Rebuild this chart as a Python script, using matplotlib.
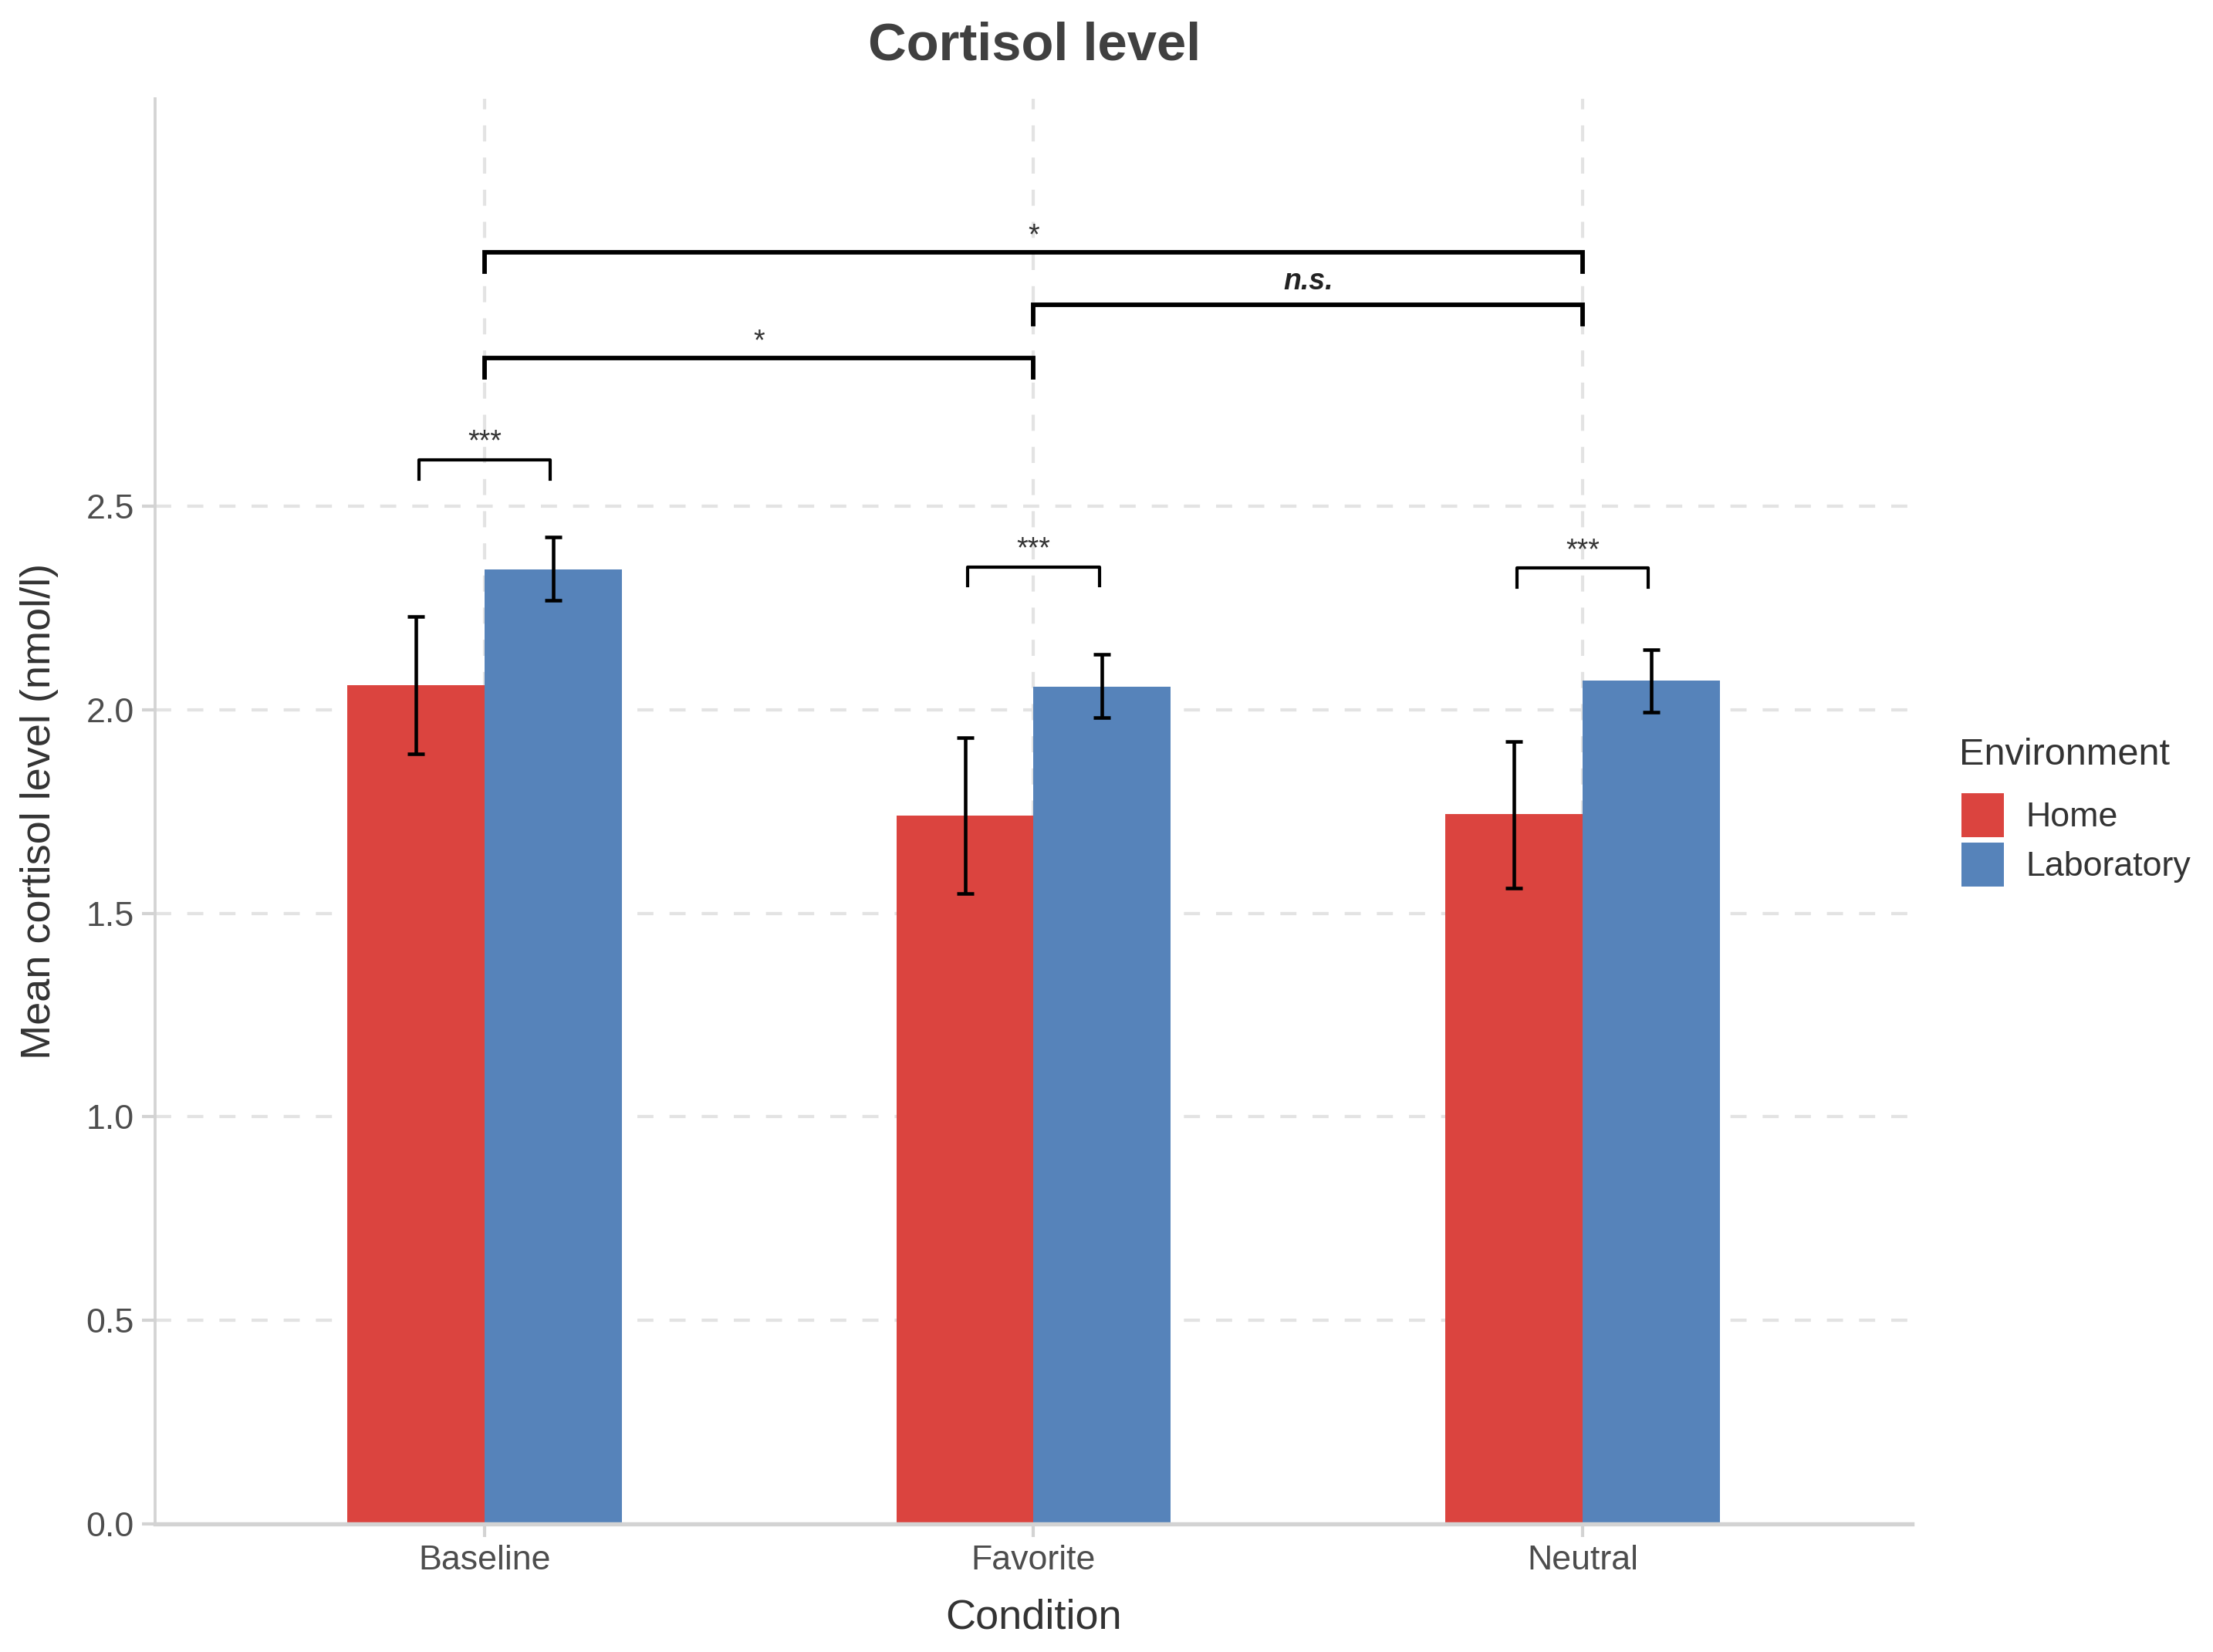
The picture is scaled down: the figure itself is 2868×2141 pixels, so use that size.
import matplotlib
matplotlib.use("Agg")
import matplotlib.pyplot as plt
import numpy as np

plt.rcParams['font.family'] = ['Liberation Sans', 'DejaVu Sans']

# ---- data ----
conditions = ["Baseline", "Favorite", "Neutral"]
environments = ["Home", "Laboratory"]
home_mean = [2.06, 1.74, 1.743]
lab_mean = [2.345, 2.057, 2.072]
home_low = [1.891, 1.548, 1.562]
home_high = [2.230, 1.932, 1.922]
lab_low = [2.268, 1.981, 1.994]
lab_high = [2.424, 2.136, 2.147]
colors = ["#DB443F", "#5683BA"]

# significance brackets
brackets_between = [
    ("Baseline", "Neutral", 3.123, "*"),
    ("Favorite", "Neutral", 2.995, "n.s."),
    ("Baseline", "Favorite", 2.864, "*"),
]
brackets_within = [
    ("Baseline", 2.614, "***"),
    ("Favorite", 2.351, "***"),
    ("Neutral", 2.348, "***"),
]
y_ticks = [0.0, 0.5, 1.0, 1.5, 2.0, 2.5]

fig = plt.figure(figsize=(2868 / 300, 2141 / 300), dpi=300)
ax = fig.add_axes([0.0701, 0.0775, 0.864 - 0.0701, 0.940 - 0.0775])

x = np.arange(1, len(conditions) + 1)
w = 0.25
grid_col = "#E3E3E3"
for t in y_ticks[1:]:
    ax.axhline(t, color=grid_col, lw=1.0, dashes=(5, 5), zorder=0)
for xi in x:
    ax.axvline(xi, color=grid_col, lw=1.0, dashes=(5, 5), zorder=0)

ax.bar(x - w / 2, home_mean, width=w, color=colors[0], label=environments[0], zorder=2)
ax.bar(x + w / 2, lab_mean, width=w, color=colors[1], label=environments[1], zorder=2)

hm = np.array(home_mean); lm = np.array(lab_mean)
ax.errorbar(x - w / 2, hm, yerr=[hm - np.array(home_low), np.array(home_high) - hm],
            fmt="none", ecolor="black", elinewidth=1.1, capsize=2.7, capthick=1.1, zorder=3)
ax.errorbar(x + w / 2, lm, yerr=[lm - np.array(lab_low), np.array(lab_high) - lm],
            fmt="none", ecolor="black", elinewidth=1.1, capsize=2.7, capthick=1.1, zorder=3)

tip = 0.047
pos = {c: i + 1 for i, c in enumerate(conditions)}
for a, b, h, lab in brackets_between:
    xa, xb = pos[a], pos[b]
    ax.plot([xa, xa, xb, xb], [h - tip, h, h, h - tip], color="black", lw=1.4,
            solid_joinstyle="miter", zorder=4, clip_on=False)
    if lab == "n.s.":
        ax.text((xa + xb) / 2, h + 0.022, lab, ha="center", va="bottom", fontsize=9,
                fontweight="bold", fontstyle="italic", color="#222222")
    else:
        ax.text((xa + xb) / 2, h + 0.005, lab, ha="center", va="bottom", fontsize=9,
                color="#333333")
for c, h, lab in brackets_within:
    xc = pos[c]
    ax.plot([xc - 0.12, xc - 0.12, xc + 0.12, xc + 0.12], [h - tip, h, h, h - tip],
            color="black", lw=1.0, zorder=4)
    ax.text(xc, h + 0.008, lab, ha="center", va="bottom", fontsize=9, color="#333333")

ax.set_xlim(0.4, 3.6)
ax.set_ylim(0, 3.5)
ax.set_yticks(y_ticks)
ax.set_yticklabels([f"{t:.1f}" for t in y_ticks])
ax.set_xticks(x)
ax.set_xticklabels(conditions)

for s in ["top", "right"]:
    ax.spines[s].set_visible(False)
ax.spines["left"].set_color("#D3D3D3")
ax.spines["left"].set_linewidth(0.9)
ax.spines["bottom"].set_color("#D3D3D3")
ax.spines["bottom"].set_linewidth(1.3)
ax.spines["left"].set_zorder(1)
ax.tick_params(axis="both", colors="#D3D3D3", width=1.0, length=4, labelsize=10.75,
               labelcolor="#4D4D4D", pad=2.5)

ax.set_ylabel("Mean cortisol level (nmol/l)", fontsize=13, color="#333333", va="center")
ax.yaxis.set_label_coords(-0.0659, 0.5)
ax.set_xlabel("Condition", fontsize=13, color="#333333", va="center")
ax.xaxis.set_label_coords(0.5, -0.0655)

fig.text(0.4675, 0.972, "Cortisol level", ha="center", va="center", fontsize=16.5,
         fontweight="bold", color="#404040")

# legend
fig.text(0.8853, 0.5429, "Environment", ha="left", va="center", fontsize=11.7,
         color="#333333")
leg = fig.legend(loc="upper left", bbox_to_anchor=(0.8865, 0.5198), frameon=False,
                 fontsize=10.75, handlelength=1.22, handleheight=1.58, labelspacing=0.15,
                 handletextpad=0.62, borderpad=0, borderaxespad=0)
for t in leg.get_texts():
    t.set_color("#333333")

fig.savefig("out.png", dpi=300, facecolor="white")
